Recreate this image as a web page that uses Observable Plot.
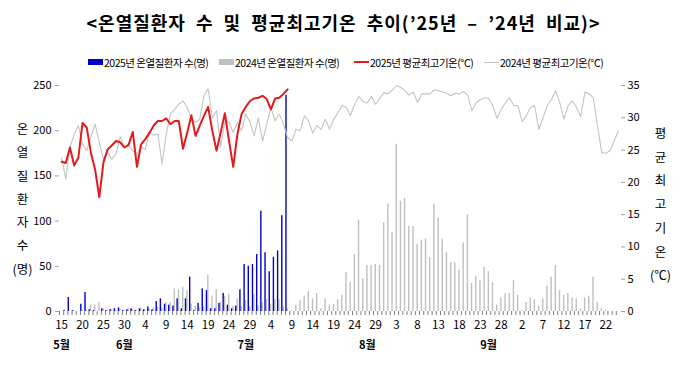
<!DOCTYPE html>
<html><head><meta charset="utf-8">
<script src="https://cdn.jsdelivr.net/npm/d3@7"></script>
<script src="https://cdn.jsdelivr.net/npm/@observablehq/plot@0.6"></script>
<style>
body{margin:0;background:#fff;font-family:"Noto Sans CJK KR",sans-serif;}
#wrap{width:687px;height:388px;position:relative;overflow:hidden;}
#title{position:absolute;top:9px;left:0;width:687px;text-align:center;font-size:18px;font-weight:bold;letter-spacing:1px;word-spacing:5px;line-height:26px;color:#000;}
.lg{position:absolute;top:55px;height:14px;display:flex;align-items:center;font-size:10.5px;letter-spacing:-0.5px;color:#000;white-space:nowrap;}
.sw{display:inline-block;width:15px;margin-right:1px;}
#chart{position:absolute;top:75px;left:0;}
</style></head>
<body><div id="wrap">
<div id="title">&lt;온열질환자 수 및 평균최고기온 추이(’25년 – ’24년 비교)&gt;</div>
<div id="legend"></div>
<div id="chart"></div>
</div>
<script>
// series labels
const seriesNames = ["2025년 온열질환자 수(명)", "2024년 온열질환자 수(명)", "2025년 평균최고기온(℃)", "2024년 평균최고기온(℃)"];
const seriesColors = ["#0000c8", "#bfbfbf", "#e41a1c", "#c4c4c4"];
// categories: days from 15 May to 25 Sep
const firstDay = "2025-05-15";
const lastDayExclusive = "2025-09-26";
// 2025 patients (15 May - 8 Jul)
const patients2025 = [0,1,15.5,1,0,8,21,2,1,0, 3,1,2,3,4,1,2,3,1,3, 2,5,2,11,14,8,7,6,14,3, 14,38,1,9,25,23,3,3,9,20, 7,3,6,24,52,50,52,63,111,65, 44,60,67,106,239];
// 2024 patients (same calendar days)
const patients2024 = [0,0,0,1,0,1,1,7,7,10, 3,1,2,1,3,1,3,2,1,4, 2,3,4,5,4,10,10,25,24,27, 23,8,6,4,5,40,17,24,10,17, 19,6,14,5,12,5,19,6,10,13, 8,13,13,5,3,1,7,12,17,22, 14,20,3,14,7,8,13,18,43,32, 63,101,36,51,51,52,51,98,119,87, 185,122,125,94,94,74,79,80,60,119, 103,80,65,54,54,46,76,107,31,39, 34,49,44,32,7,15,20,20,34,18, 1,10,15,13,6,14,28,38,51,23, 18,20,15,14,3,15,17,38,10,3, 1,0,0,0];
// 2025 average max temperature
const temp2025 = [23.2,23.0,25.4,22.6,23.8,29.2,28.5,24.6,22.0,17.7, 23.1,25.1,25.7,26.4,26.2,25.4,25.8,27.8,22.4,25.9, 26.7,27.7,28.8,29.5,29.5,29.9,29.0,29.5,29.5,25.2, 27.7,30.4,27.2,28.8,30.3,31.7,28.0,24.9,27.7,30.7, 26.4,22.4,27.5,30.6,31.7,32.6,33.0,33.1,33.4,32.9, 31.3,33.0,33.1,33.7,34.4];
// 2024 average max temperature
const temp2024 = [23.8,20.5,25.5,27.4,28.8,26.0,24.9,27.1,29.0,26.2, 23.6,24.6,23.6,24.4,27.1,25.4,25.7,24.9,24.4,25.4, 25.1,27.7,27.3,27.5,22.8,27.5,30.6,31.3,32.1,32.6, 31.6,29.8,29.3,29.8,33.4,34.5,30.0,31.1,25.5,29.3, 29.3,27.7,29.3,28.0,30.6,29.3,27.2,30.0,26.4,29.0, 31.6,29.5,30.6,29.0,26.9,26.4,28.2,28.0,30.3,29.5, 27.6,28.8,28.2,29.8,28.2,29.8,30.8,31.9,31.6,30.4, 32.1,33.3,32.5,32.3,33.3,32.1,33.0,33.9,33.7,34.3, 35.0,34.7,34.2,33.5,34.0,32.4,33.7,33.7,33.7,34.3, 34.2,34.0,33.8,33.4,33.8,33.7,34.1,33.5,31.1,32.3, 32.8,33.1,33.0,31.9,29.9,31.3,32.3,33.1,31.9,31.9, 29.4,30.3,31.6,31.9,28.2,30.0,31.9,32.8,34.2,32.3, 29.8,31.9,32.6,31.6,30.2,34.0,33.7,33.1,28.8,24.6, 24.5,24.9,26.4,28.0];
// axis tick values
const patientTicks = [0,50,100,150,200,250];
const tempTicks = [0,5,10,15,20,25,30,35];
const tempMax = 35, patientMax = 250;
// month labels and where they sit
const monthLabels = ["5월","6월","7월","8월","9월"];
const monthLabelDays = ["2025-05-15","2025-05-30","2025-06-28","2025-07-27","2025-08-25"];
const leftTitle = "온\n열\n질\n환\n자\n수\n(명)";
const rightTitle = "평\n균\n최\n고\n기\n온\n(℃)";

// legend
const lg = document.getElementById("legend");
const lgLeft = [88, 219, 354, 484];
seriesNames.forEach((n, i) => {
  const d = document.createElement("div");
  d.className = "lg"; d.style.left = lgLeft[i] + "px";
  const s = document.createElement("span");
  s.className = "sw";
  s.style.height = i < 2 ? "6px" : (i === 2 ? "2px" : "1px");
  s.style.background = seriesColors[i];
  d.appendChild(s);
  d.appendChild(document.createTextNode(n));
  lg.appendChild(d);
});

const noon = d => d3.utcHour.offset(d, 12);
const dayStarts = d3.utcDay.range(new Date(firstDay), new Date(lastDayExclusive));
const days = dayStarts.map(noon);
const rows2024 = days.map((d, i) => ({date: d, patients: patients2024[i], temp: temp2024[i] * patientMax / tempMax}));
const rows2025 = days.slice(0, temp2025.length).map((d, i) => ({date: d, patients: patients2025[i], temp: temp2025[i] * patientMax / tempMax}));
const labelDays = days.filter((d, i) => i % 5 === 0);
const months = monthLabels.map((m, i) => ({label: m, date: noon(new Date(monthLabelDays[i]))}));

const chart = Plot.plot({
  width: 687, height: 313,
  marginLeft: 59, marginRight: 67, marginTop: 10, marginBottom: 77,
  style: {fontFamily: "'Liberation Sans Narrow','Noto Sans CJK KR',sans-serif", fontSize: "11px", color: "#000", background: "#fff"},
  x: {type: "utc", domain: [new Date(firstDay), new Date(lastDayExclusive)]},
  y: {domain: [0, patientMax]},
  marks: [
    Plot.rectY(rows2024, {x: "date", y: "patients", interval: "day", fill: seriesColors[1], insetLeft: 1.6, insetRight: 1.2}),
    Plot.rectY(rows2025, {x: "date", y: "patients", interval: "day", fill: seriesColors[0], insetLeft: 0.2, insetRight: 2.6}),
    Plot.line(rows2024, {x: "date", y: "temp", stroke: seriesColors[3], strokeWidth: 1.1}),
    Plot.line(rows2025, {x: "date", y: "temp", stroke: seriesColors[2], strokeWidth: 2}),
    Plot.axisY(patientTicks, {anchor: "left", line: true, stroke: "#a0a0a0", tickSize: 4, tickPadding: 4, label: null, fontSize: 11}),
    Plot.axisY(tempTicks.map(t => t * patientMax / tempMax), {anchor: "right", line: true, stroke: "#a0a0a0", tickSize: 4, tickPadding: 3, label: null, fontSize: 11, tickFormat: v => Math.round(v * tempMax / patientMax)}),
    Plot.axisX(dayStarts, {anchor: "bottom", line: true, stroke: "#808080", tickSize: 4, tickFormat: () => "", label: null}),
    Plot.axisX(labelDays, {anchor: "bottom", tickSize: 0, tickPadding: 9, tickFormat: d => d.getUTCDate(), label: null, fontSize: 11.5}),
    Plot.text(months, {x: "date", text: "label", frameAnchor: "bottom", dy: 37, fontSize: 11, fontWeight: "bold", fontFamily: "'Noto Sans CJK KR',sans-serif"}),
    Plot.text([leftTitle], {text: d => d, frameAnchor: "left", textAnchor: "middle", dx: -37, dy: -2, fontSize: 12.5, lineHeight: 1.86, fontFamily: "'Noto Sans CJK KR',sans-serif"}),
    Plot.text([rightTitle], {text: d => d, frameAnchor: "right", textAnchor: "middle", dx: 40, dy: 3, fontSize: 12.5, lineHeight: 1.9, fontFamily: "'Noto Sans CJK KR',sans-serif"})
  ]
});
document.getElementById("chart").appendChild(chart);
</script>
</body></html>
